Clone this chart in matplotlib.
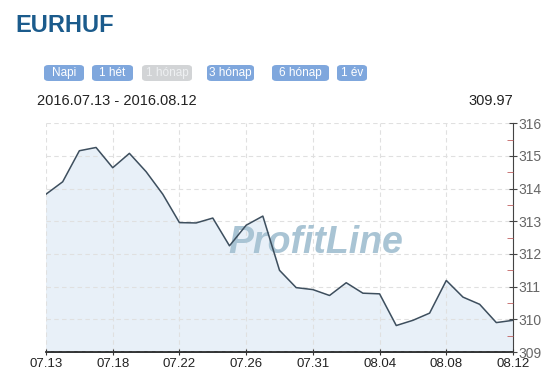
import matplotlib
matplotlib.use("Agg")
import matplotlib.pyplot as plt
from matplotlib.patches import FancyBboxPatch
from matplotlib.ticker import MultipleLocator

plt.rcParams['font.family'] = ['Liberation Sans', 'DejaVu Sans']

# EURHUF daily close, 2016.07.13 - 2016.08.12
dates = ['07.13', '07.14', '07.15', '07.16', '07.18', '07.19', '07.20', '07.21',
         '07.22', '07.23', '07.24', '07.25', '07.26', '07.27', '07.28', '07.29',
         '07.31', '08.01', '08.02', '08.03', '08.04', '08.05', '08.06', '08.07',
         '08.08', '08.09', '08.10', '08.11', '08.12']
rates = [313.83, 314.21, 315.16, 315.26, 314.64, 315.08, 314.52, 313.83,
         312.96, 312.95, 313.10, 312.25, 312.88, 313.16, 311.50, 310.97,
         310.91, 310.73, 311.12, 310.80, 310.78, 309.81, 309.97, 310.19,
         311.19, 310.68, 310.46, 309.90, 309.97]
tick_labels = ['07.13', '07.18', '07.22', '07.26', '07.31', '08.04', '08.08', '08.12']
buttons = ['Napi', '1 hét', '1 hónap', '3 hónap', '6 hónap', '1 év']
active = '1 hónap'

W, H = 555, 375
fig = plt.figure(figsize=(W / 100, H / 100), dpi=100)
fig.patch.set_facecolor('white')

# header
fig.text(15 / W, 1 - 25 / H, 'EURHUF', fontsize=17, fontweight='bold',
         color='#1b5b8c', va='center', ha='left')

btn_x = [(44, 84), (92, 133), (142, 192), (207, 254), (272, 329), (337, 367)]
for label, (x0, x1) in zip(buttons, btn_x):
    is_active = label == active
    face = '#d2d4d6' if is_active else '#7fa7dd'
    tcol = '#eef0f2' if is_active else 'white'
    box = FancyBboxPatch((x0 / W, 1 - 81 / H), (x1 - x0) / W, 16 / H,
                         boxstyle='round,pad=0,rounding_size=0.008',
                         transform=fig.transFigure, facecolor=face,
                         edgecolor='none')
    fig.patches.append(box)
    fig.text((x0 + x1) / 2 / W, 1 - 73 / H, label, fontsize=8.5, color=tcol,
             ha='center', va='center')

fig.text(37 / W, 1 - 101 / H, f'2016.{dates[0]} - 2016.{dates[-1]}',
         fontsize=10.5, color='#222222', ha='left', va='center')
fig.text(513 / W, 1 - 101 / H, f'{rates[-1]:.2f}', fontsize=10.5,
         color='#222222', ha='right', va='center')

# chart
ax = fig.add_axes([46 / W, 23 / H, (513 - 46) / W, (352 - 123.3) / H])
x = list(range(len(rates)))
ax.fill_between(x, rates, 309, color='#e8f0f8', zorder=1)
ax.plot(x, rates, color='#3e4f5e', linewidth=1.1, zorder=4)

ax.text(0.577, 0.475, 'ProfitLine', transform=ax.transAxes, fontsize=27,
        fontweight='bold', fontstyle='italic', color='#a9c4d4',
        ha='center', va='center', zorder=3)

ax.set_xlim(0, len(rates) - 1)
ax.set_ylim(309, 316)
ax.set_xticks([dates.index(t) for t in tick_labels])
ax.set_xticklabels(tick_labels)
ax.yaxis.set_major_locator(MultipleLocator(1))
ax.yaxis.set_minor_locator(MultipleLocator(0.5))
ax.yaxis.tick_right()

ax.grid(True, which='major', color='#e0e0e0', linestyle=(0, (4, 3)),
        linewidth=0.8, zorder=2)
ax.set_axisbelow(False)
for s in ['top', 'left']:
    ax.spines[s].set_visible(False)
ax.spines['right'].set_color('#444444')
ax.spines['bottom'].set_color('#111111')
ax.spines['bottom'].set_linewidth(1.2)

ax.tick_params(axis='x', direction='inout', length=5, color='#333333',
               labelsize=9.5, labelcolor='#222222', pad=2)
ax.tick_params(axis='y', which='major', direction='inout', length=6,
               color='#444444', labelsize=10, labelcolor='#666666', pad=1)
ax.tick_params(axis='y', which='minor', direction='in', length=4,
               color='#c06060')

fig.savefig('out.png', dpi=100, facecolor='white')
